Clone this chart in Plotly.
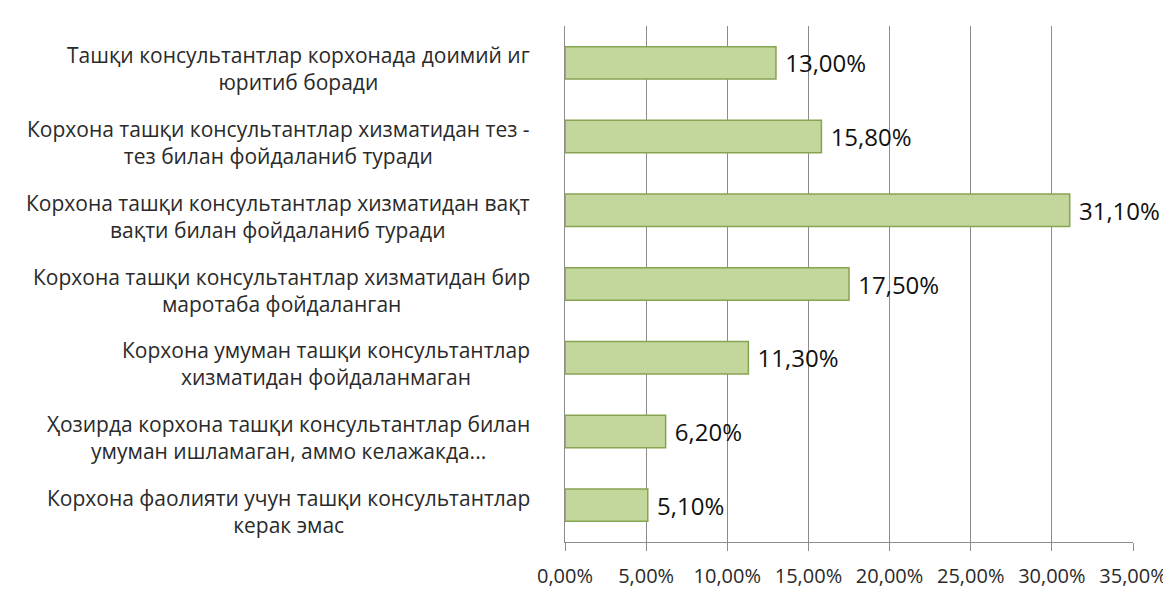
import plotly.graph_objects as go

categories = [
    "Корхона фаолияти учун ташқи консультантлар<br>керак эмас",
    "Ҳозирда корхона ташқи консультантлар билан<br>умуман ишламаган, аммо келажакда...",
    "Корхона умуман ташқи консультантлар<br>хизматидан фойдаланмаган",
    "Корхона ташқи консультантлар хизматидан бир<br>маротаба фойдаланган",
    "Корхона ташқи консультантлар хизматидан вақт<br>вақти билан фойдаланиб туради",
    "Корхона ташқи консультантлар хизматидан тез -<br>тез билан фойдаланиб туради",
    "Ташқи консультантлар корхонада доимий иг<br>юритиб боради",
]
values = [5.1, 6.2, 11.3, 17.5, 31.1, 15.8, 13.0]
x_ticks = [0, 5, 10, 15, 20, 25, 30, 35]
x_tick_text = ["0,00%", "5,00%", "10,00%", "15,00%", "20,00%", "25,00%", "30,00%", "35,00%"]

fig = go.Figure()
fig.add_trace(go.Bar(
    y=categories, x=values, orientation="h",
    marker=dict(color="#C3D69B", line=dict(color="#88A350", width=1.5)),
    width=0.44,
    texttemplate=" %{x:.2f}%", textposition="outside",
    textfont=dict(family="Open Sans", size=24, color="#111111"),
    constraintext="none",
    cliponaxis=False,
))

# Two-line category labels, lines centred on each other
for cat in categories:
    fig.add_annotation(
        x=0, xref="paper", y=cat, yref="y", text=cat, showarrow=False,
        xanchor="right", align="center", xshift=-33, yshift=-6,
        font=dict(family="Open Sans", size=21, color="#2a2a2a"),
    )

fig.update_layout(
    width=1171, height=593,
    margin=dict(l=557, r=46, t=18, b=59),
    paper_bgcolor="white", plot_bgcolor="white",
    separators=", ",
    showlegend=False,
    xaxis=dict(
        range=[0, 35], tickvals=x_ticks, ticktext=x_tick_text, automargin=False,
        showgrid=True, gridcolor="#8c8c8c", gridwidth=1,
        showline=True, linecolor="#8c8c8c", ticks="outside", tickcolor="#8c8c8c", ticklen=8,
        ticklabelstandoff=8,
        tickfont=dict(family="Open Sans", size=20, color="#2a2a2a"),
        zeroline=False,
    ),
    yaxis=dict(
        showticklabels=False, showline=True, linecolor="#8c8c8c",
        ticks="", showgrid=False, automargin=False,
    ),
)

fig.write_html("out.html")
